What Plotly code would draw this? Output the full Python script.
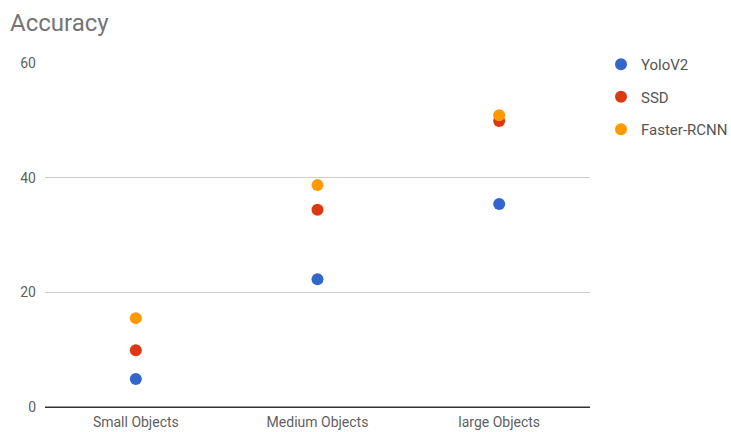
import plotly.graph_objects as go

categories = ["Small Objects", "Medium Objects", "large Objects"]
series_names = ["YoloV2", "SSD", "Faster-RCNN"]
yolo = [4.9, 22.3, 35.4]
ssd = [9.9, 34.4, 49.9]
faster = [15.5, 38.7, 50.9]
colors = ["#3366cc", "#dc3912", "#ff9900"]
y_ticks = [0, 20, 40, 60]

fig = go.Figure()
for name, vals, col in zip(series_names, [yolo, ssd, faster], colors):
    fig.add_trace(go.Scatter(
        x=categories, y=vals, mode="markers", name=name,
        legendgroup=name,
        marker=dict(color=col, size=12, line=dict(width=0)),
    ))

fig.update_layout(
    width=731, height=432,
    margin=dict(l=45, r=141, t=63, b=25, autoexpand=False),
    paper_bgcolor="white", plot_bgcolor="white",
    font=dict(family="Roboto", size=14, color="#5f5f5f"),
    title=dict(text="Accuracy", x=10 / 731, xref="container", xanchor="left",
               y=1 - 23 / 432, yref="container", yanchor="middle",
               font=dict(size=24, color="#757575", family="Roboto")),
    showlegend=True,
    legend=dict(x=601 / 731, xref="container", xanchor="left",
                y=1 - 48 / 432, yref="container", yanchor="top",
                font=dict(size=15, color="#555555"),
                tracegroupgap=10, itemsizing="constant"),
    xaxis=dict(type="category", range=[-0.5, 2.5], showgrid=False,
               showline=False, ticks="", automargin=False,
               ticklabelstandoff=5,
               tickfont=dict(color="#5f5f5f")),
    yaxis=dict(range=[0, 60], tickvals=y_ticks, showgrid=True,
               gridcolor="#cccccc", zeroline=True, zerolinecolor="#333333",
               zerolinewidth=1, ticks="", ticklabelstandoff=8, automargin=False,
               tickfont=dict(color="#5f5f5f")),
)
fig.add_shape(type="line", xref="paper", yref="y", x0=0, x1=1, y0=0, y1=0,
              line=dict(color="#333333", width=1))

fig.write_html("out.html")
